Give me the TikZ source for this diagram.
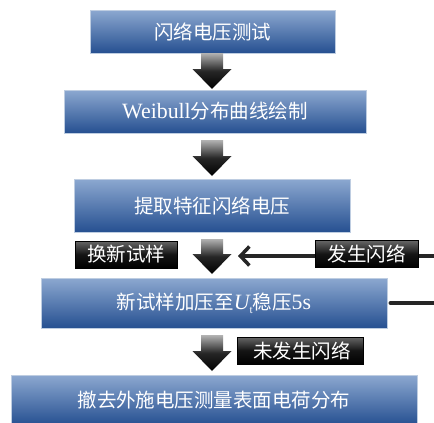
\documentclass[tikz,border=0pt]{standalone}
\usepackage{fontspec}
\setmainfont{Noto Sans CJK SC}
\newfontfamily\latfont[Scale=1.12]{Liberation Serif}
\usetikzlibrary{calc, arrows.meta}

\definecolor{boxtop}{RGB}{140,168,208}
\definecolor{boxbot}{RGB}{38,80,145}
\definecolor{boxedge}{RGB}{190,205,225}

\tikzset{
  stepbox/.style={draw=boxedge, line width=0.6pt, top color=boxtop, bottom color=boxbot,
    text=white, inner sep=0pt, font=\fontsize{19.5}{21}\selectfont},
  tagbox/.style={draw=black, top color=black!60, bottom color=black, middle color=black!92,
    text=white, inner sep=0pt, minimum height=27pt, font=\fontsize{19.5}{21}\selectfont},
  arrowshade/.style={top color=black!30, bottom color=black, middle color=black!85},
  loopline/.style={line width=3.5pt, black!85}
}

% block arrow from #1 (top of shaft) down to #2 (tip)
\newcommand{\blkarrow}[2]{%
  \shade[arrowshade] ($(#1)+(-11,0)$) -- ($(#1)+(11,0)$) -- ($(#2)+(11,-20)$)
    -- ($(#2)+(19.5,-20)$) -- (#2) -- ($(#2)+(-19.5,-20)$) -- ($(#2)+(-11,-20)$) -- cycle;}

\begin{document}
\begin{tikzpicture}[x=1pt, y=-1pt]
  \useasboundingbox (0,0) rectangle (434,423);

  % ── main steps ──
  \node[stepbox, minimum width=245pt, minimum height=43pt] (test) at (212.5,31.5) {闪络电压测试};
  \node[stepbox, minimum width=302pt, minimum height=43pt] (weib) at (215,111.5) {{\latfont Weibull}分布曲线绘制};
  \node[stepbox, minimum width=276pt, minimum height=53pt] (feat) at (212,205.5) {提取特征闪络电压};
  \node[stepbox, minimum width=346pt, minimum height=50pt] (load) at (214,303) {新试样加压至{\latfont\itshape U}\raisebox{-0.4ex}{\fontsize{10}{10}\selectfont\latfont t}稳压{\latfont 5s}};
  \node[stepbox, minimum width=406pt, minimum height=50pt] (meas) at (214,400) {撤去外施电压测量表面电荷分布};

  % ── block arrows ──
  \coordinate (a1s) at (212,53);  \coordinate (a1e) at (212,89);
  \coordinate (a2s) at (212,140); \coordinate (a2e) at (212,176);
  \coordinate (a3s) at (212,239); \coordinate (a3e) at (212,274);
  \coordinate (a4s) at (212,335); \coordinate (a4e) at (212,371);
  \blkarrow{a1s}{a1e}
  \blkarrow{a2s}{a2e}
  \blkarrow{a3s}{a3e}
  \blkarrow{a4s}{a4e}

  % ── loop lines ──
  \coordinate (inR) at (436,256);
  \coordinate (inT) at (238,256);
  \draw[loopline, -{Straight Barb[length=9pt, width=19pt, line width=3.5pt]}] (inR) -- (inT);
  \coordinate (outR) at (436,303);
  \draw[loopline, line cap=round] (load.east) ++(3,0) coordinate (outL) -- (outR);

  % ── tags ──
  \node[tagbox, minimum width=102pt] (swap) at (126,254.5) {换新试样};
  \node[tagbox, minimum width=103pt] (flash) at (366.5,254) {发生闪络};
  \node[tagbox, minimum width=126pt] (noflash) at (300,350.5) {~未发生闪络};
\end{tikzpicture}
\end{document}
